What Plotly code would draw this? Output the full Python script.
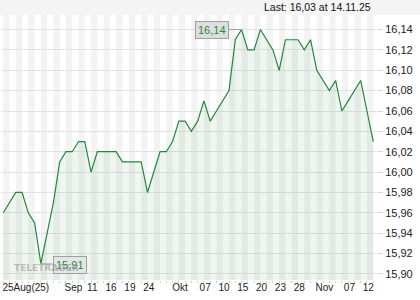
import plotly.graph_objects as go

dates = [
    "2025-08-25", "2025-08-26", "2025-08-27", "2025-08-28", "2025-08-29",
    "2025-09-01", "2025-09-02", "2025-09-03", "2025-09-04", "2025-09-05",
    "2025-09-08", "2025-09-09", "2025-09-10", "2025-09-11", "2025-09-12",
    "2025-09-15", "2025-09-16", "2025-09-17", "2025-09-18", "2025-09-19",
    "2025-09-22", "2025-09-23", "2025-09-24", "2025-09-25", "2025-09-26",
    "2025-09-29", "2025-09-30", "2025-10-01", "2025-10-02", "2025-10-03",
    "2025-10-06", "2025-10-07", "2025-10-08", "2025-10-09", "2025-10-10",
    "2025-10-13", "2025-10-14", "2025-10-15", "2025-10-16", "2025-10-17",
    "2025-10-20", "2025-10-21", "2025-10-22", "2025-10-23", "2025-10-24",
    "2025-10-27", "2025-10-28", "2025-10-29", "2025-10-30", "2025-10-31",
    "2025-11-03", "2025-11-04", "2025-11-05", "2025-11-06", "2025-11-07",
    "2025-11-10", "2025-11-11", "2025-11-12", "2025-11-13", "2025-11-14",
]

prices = [
    15.96, 15.97, 15.98, 15.98, 15.96,
    15.95, 15.91, 15.94, 15.97, 16.01,
    16.02, 16.02, 16.03, 16.03, 16.00,
    16.02, 16.02, 16.02, 16.02, 16.01,
    16.01, 16.01, 16.01, 15.98, 16.00,
    16.02, 16.02, 16.03, 16.05, 16.05,
    16.04, 16.05, 16.07, 16.05, 16.06,
    16.07, 16.08, 16.13, 16.14, 16.12,
    16.12, 16.14, 16.13, 16.12, 16.10,
    16.13, 16.13, 16.13, 16.12, 16.13,
    16.10, 16.09, 16.08, 16.09, 16.06,
    16.07, 16.08, 16.09, 16.06, 16.03,
]

tick_dates = ["2025-08-25", "2025-09-08", "2025-09-11", "2025-09-16", "2025-09-19",
              "2025-09-24", "2025-10-01", "2025-10-07", "2025-10-10", "2025-10-15",
              "2025-10-20", "2025-10-23", "2025-10-28", "2025-11-03", "2025-11-07",
              "2025-11-12"]
tick_text = ["25Aug(25)", "Sep", "11", "16", "19", "24", "Okt", "07", "10", "15",
             "20", "23", "28", "Nov", "07", "12"]

y_ticks = [15.90, 15.92, 15.94, 15.96, 15.98, 16.00, 16.02, 16.04, 16.06, 16.08,
           16.10, 16.12, 16.14]

idx = list(range(len(dates)))

def fmt(v):
    return f"{v:.2f}".replace(".", ",")

LINE = "#1f8b3b"
FONT = "Liberation Sans, Arial, sans-serif"

fig = go.Figure()
fig.add_trace(go.Scatter(
    x=idx, y=prices, mode="lines",
    line=dict(color=LINE, width=1.2),
    fill="tozeroy", fillcolor="rgba(40,130,50,0.075)",
    hoverinfo="skip",
))

# alternating day stripes
shapes = []
for i in idx:
    if i % 2 == 0:
        shapes.append(dict(type="rect", xref="x", yref="y domain",
                           x0=i, x1=i + 1, y0=0, y1=1,
                           fillcolor="#f3f3f3", line=dict(width=0), layer="below"))
# header strip
shapes.append(dict(type="rect", xref="paper", yref="paper",
                   x0=-0.02, x1=1.2, y0=1.0, y1=1.2,
                   fillcolor="#f4f4f4", line=dict(width=0), layer="below"))

tickvals = []
for k, d in enumerate(tick_dates):
    base = dates.index(d)
    tickvals.append(base + (3.6 if k == 0 else 1.2))

imax = prices.index(max(prices))
imin = prices.index(min(prices))

annotations = [
    dict(x=(373 - 2) / 375, xref="paper", xanchor="right", y=1.0 + 8 / 265, yref="paper",
         yanchor="middle",
         text=f"Last: {fmt(prices[-1])} at {dates[-1][8:10]}.{dates[-1][5:7]}.{dates[-1][2:4]}",
         showarrow=False, font=dict(family=FONT, size=10.5, color="#111")),
    dict(x=imax, y=max(prices), xref="x", yref="y",
         text=fmt(max(prices)), showarrow=True, arrowhead=0, arrowwidth=1,
         arrowcolor="#a0a0a0", ax=-30, ay=0, standoff=0,
         bgcolor="#dedede", bordercolor="#a0a0a0", borderwidth=1, borderpad=2,
         font=dict(family=FONT, size=11, color="#1f8b3b")),
    dict(x=imin, y=min(prices), xref="x", yref="y",
         text=fmt(min(prices)), showarrow=True, arrowhead=0, arrowwidth=1,
         arrowcolor="#a0a0a0", ax=29, ay=1, standoff=0,
         bgcolor="rgba(228,228,228,0.9)", bordercolor="#a0a0a0", borderwidth=1, borderpad=2,
         font=dict(family=FONT, size=11, color="#1f8b3b")),
    dict(x=10 / 375, xref="paper", xanchor="left", y=(280 - 268) / 265, yref="paper",
         yanchor="middle", text="<b>TELETRADER</b>", showarrow=False,
         font=dict(family="DejaVu Sans", size=9, color="rgba(150,150,150,0.6)")),
]

fig.update_layout(
    width=420, height=300,
    margin=dict(l=2, r=43, t=15, b=20),
    paper_bgcolor="white", plot_bgcolor="white",
    showlegend=False,
    separators=",.",
    shapes=shapes,
    annotations=annotations,
    font=dict(family=FONT, size=10, color="#222"),
    xaxis=dict(
        range=[-0.2, 59.6], showgrid=False, zeroline=False,
        tickmode="array", tickvals=tickvals, ticktext=tick_text,
        ticks="", tickfont=dict(family=FONT, size=10, color="#222"),
        minor=dict(tickmode="linear", tick0=0, dtick=1, ticks="outside",
                   ticklen=2, tickcolor="#d0d0d0", showgrid=False),
        showline=False, fixedrange=True,
    ),
    yaxis=dict(
        range=[15.894, 16.1543], side="right",
        tickmode="array", tickvals=y_ticks, ticktext=[fmt(v) for v in y_ticks],
        showgrid=True, gridcolor="#e2e2e2", gridwidth=1, zeroline=False,
        ticks="outside", ticklen=5, tickcolor="#d8d8d8",
        tickfont=dict(family=FONT, size=11, color="#222"),
        showline=False, fixedrange=True,
    ),
)

fig.write_html("out.html")
